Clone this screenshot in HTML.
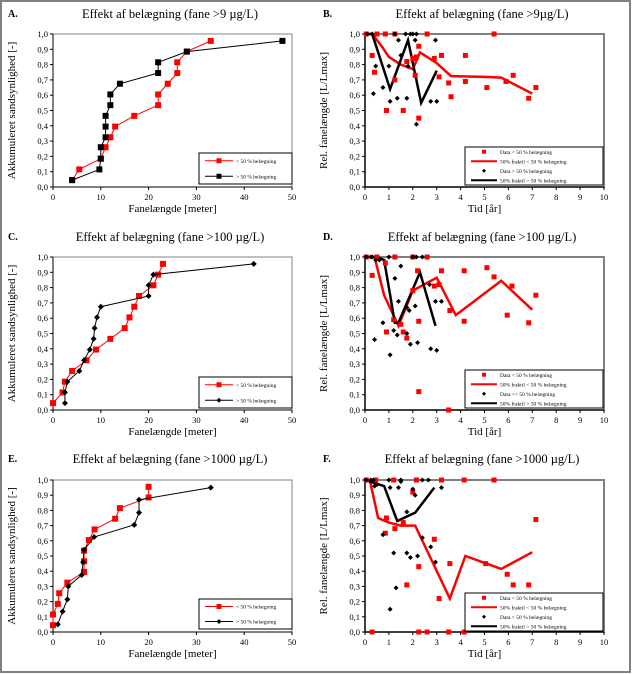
<!DOCTYPE html>
<html><head><meta charset="utf-8"><style>
html,body{margin:0;padding:0;background:#fff}
svg{display:block;font-family:"Liberation Serif",serif}
</style></head><body>
<svg id="fig" width="632" height="674" viewBox="0 0 632 674" xmlns="http://www.w3.org/2000/svg">
<rect x="1" y="1" width="629" height="671" fill="#fff" stroke="#808080" stroke-width="2"/>
</svg>
<script>
// ---- data ----
const aRedX=[4,5.5,10,11,12,13,17,22,22,24,26,26,28,33];
const aRedY=[0.045,0.115,0.185,0.26,0.325,0.395,0.465,0.535,0.605,0.675,0.745,0.815,0.885,0.955];
const aBlkX=[4,9.7,10,10,11,11,11,12,12,14,22,22,28,48];
const aBlkY=[0.045,0.115,0.185,0.26,0.325,0.395,0.465,0.535,0.605,0.675,0.745,0.815,0.885,0.955];
const cRedX=[0,2,2.5,4,7,9,12,15,16,17,18,21,22,23];
const cRedY=[0.045,0.115,0.185,0.255,0.325,0.395,0.465,0.535,0.605,0.675,0.745,0.815,0.885,0.955];
const cBlkX=[2.5,2.5,3,5.5,6.5,7.7,8.5,8.7,9.2,10,20,20,21,42];
const cBlkY=[0.045,0.115,0.185,0.255,0.325,0.395,0.465,0.535,0.605,0.675,0.745,0.815,0.885,0.955];
const eRedX=[0,0,1,1.3,3,6.5,6.5,6.5,7.5,8.7,13,14,20,20];
const eRedY=[0.045,0.115,0.185,0.255,0.325,0.395,0.465,0.535,0.605,0.675,0.745,0.815,0.885,0.955];
const eBlkX=[1,2,3,3.2,6,6.3,6.5,8.6,17,18,18,33];
const eBlkY=[0.05,0.135,0.215,0.30,0.375,0.46,0.54,0.625,0.705,0.785,0.87,0.95];

const bRedX=[0.05,0.3,0.4,0.5,0.85,0.9,1.25,1.25,1.6,1.75,2.0,2.1,2.15,2.25,2.25,2.6,2.9,3.1,3.2,3.5,3.6,4.2,4.2,5.1,5.4,5.9,6.2,6.85,7.15];
const bRedY=[1,0.86,0.75,1,1,0.5,1,0.7,0.5,0.82,0.84,0.73,0.85,0.92,0.45,1,0.84,0.72,0.86,0.68,0.59,0.86,0.69,0.65,1,0.69,0.73,0.58,0.65];
const bBlkX=[0.1,0.3,0.35,0.45,0.75,1.0,1.05,1.25,1.4,1.35,1.5,1.7,1.75,1.8,1.9,2.0,2.1,2.15,2.15,2.75,2.95,3.0];
const bBlkY=[1,1,0.61,0.79,0.65,0.79,0.56,1,0.96,0.58,0.86,1,0.58,0.79,1,1,0.96,1,0.41,0.56,0.96,0.56];
const bRedLX=[0,0.3,0.7,1,1.5,2,2.3,3,3.6,5,5.7,7];
const bRedLY=[1,1,0.92,0.85,0.80,0.77,0.88,0.81,0.725,0.72,0.715,0.61];
const bBlkLX=[0,0.3,1.05,1.8,2.35,3];
const bBlkLY=[1,1,0.64,0.96,0.55,0.76];

const dRedX=[0.05,0.3,0.5,0.85,0.9,1.2,1.25,1.5,1.6,1.75,2.0,2.0,2.2,2.25,2.25,2.6,2.9,3.1,3.2,3.5,3.55,4.15,4.15,5.1,5.4,5.95,6.15,6.85,7.15];
const dRedY=[1,0.88,1,0.96,0.51,0.59,1,0.56,0.51,0.47,0.78,1,0.91,0.58,0.12,1,0.81,0.82,0.91,0.0,0.65,0.91,0.58,0.93,0.87,0.62,0.81,0.57,0.75];
const dBlkX=[0.05,0.25,0.3,0.4,0.45,0.6,0.75,1.0,1.05,1.2,1.25,1.35,1.4,1.5,1.75,1.75,1.85,1.9,2.0,2.1,2.15,2.2,2.4,2.7,2.75,2.95,3.0,3.2];
const dBlkY=[1,1,1,0.46,0.98,0.98,0.57,1,0.36,0.52,0.86,0.49,0.71,0.94,0.5,0.67,0.65,0.43,1,0.68,1,0.44,1,0.82,0.4,0.71,0.39,0.71];
const dRedLX=[0,0.4,0.8,1.4,2,3,3.8,5.7,7];
const dRedLY=[1,1,0.75,0.55,0.78,0.865,0.62,0.845,0.655];
const dBlkLX=[0,0.5,0.8,1.25,1.4,2.3,2.95];
const dBlkLY=[1,1,0.98,0.57,0.57,0.9,0.55];

const fRedX=[0.05,0.3,0.45,0.9,0.85,1.2,1.25,1.6,1.75,2.0,2.15,2.25,2.25,2.6,2.9,3.1,3.2,3.5,3.55,4.15,4.15,5.05,5.4,5.95,6.2,6.85,7.15];
const fRedY=[1,0,1,0.75,0.65,1,0.68,0.72,0.31,0.92,1,0.43,0,0,0.61,0.22,1,0,0.45,1,0,0.45,1,0.38,0.31,0.31,0.74];
const fBlkX=[0.05,0.25,0.35,0.4,0.5,0.75,1.0,1.05,1.05,1.2,1.3,1.4,1.5,1.5,1.75,1.75,1.9,2.0,2.1,2.2,2.4,2.4,2.65,2.75,2.95,3.2];
const fBlkY=[1,1,1,0.96,0.97,0.64,1,0.95,0.15,0.52,0.29,0.95,1,0.99,0.52,0.79,0.49,0.94,0.90,0.5,1,0.62,1,0.56,0.46,0.95];
const fRedLX=[0,0.2,0.55,1,1.5,2.1,3.55,4.2,5.7,7];
const fRedLY=[1,1,0.75,0.72,0.70,0.70,0.22,0.50,0.415,0.525];
const fBlkLX=[0,0.5,0.8,1.35,2.1,2.9];
const fBlkLY=[1,0.975,0.96,0.73,0.785,0.95];

const yTicks=["0,0","0,1","0,2","0,3","0,4","0,5","0,6","0,7","0,8","0,9","1,0"];
const xTicksL=[0,10,20,30,40,50];
const xTicksR=[0,1,2,3,4,5,6,7,8,9,10];

// ---- drawing ----
const NS="http://www.w3.org/2000/svg";
const svg=document.getElementById('fig');
function mk(tag,attrs,parent,txt){const e=document.createElementNS(NS,tag);for(const k in attrs)e.setAttribute(k,attrs[k]);if(txt!==undefined)e.textContent=txt;(parent||svg).appendChild(e);return e;}
function scale(d0,d1,r0,r1){return v=>r0+(v-d0)/(d1-d0)*(r1-r0);}
function marker(g,type,x,y,s,color){
  let e;
  if(type==='sq'){e=mk('rect',{x:x-s/2,y:y-s/2,width:s,height:s,fill:color},g);}
  else{e=mk('polygon',{points:`${x},${y-s/2} ${x+s/2},${y} ${x},${y+s/2} ${x-s/2},${y}`,fill:color},g);}
  
  
}
function panel(p){
  const g=mk('g',{});
  
  
  const sx=scale(0,p.xmax,p.x0,p.x1), sy=scale(0,1,p.y0,p.y1);
  const frame=mk('rect',{x:p.x0,y:p.y1,width:p.x1-p.x0,height:p.y0-p.y1,fill:'none',stroke:'#808080','stroke-width':p.fw},g);
  
  mk('line',{x1:p.x0,y1:p.y1,x2:p.x0,y2:p.y0,stroke:'#000','stroke-width':1},g);
  mk('line',{x1:p.x0,y1:p.y0,x2:p.x1,y2:p.y0,stroke:'#000','stroke-width':1},g);
  yTicks.forEach((t,i)=>{const y=sy(i/10);
    mk('line',{x1:p.x0-3,y1:y,x2:p.x0,y2:y,stroke:'#000'},g);
    const tl=mk('text',{x:p.x0-5,y:y+3,'font-size':8.5,'text-anchor':'end'},g,t);
    });
  p.xt.forEach(t=>{const x=sx(t);
    mk('line',{x1:x,y1:p.y0,x2:x,y2:p.y0+3,stroke:'#000'},g);
    const tl=mk('text',{x:x,y:p.y0+13,'font-size':8.5,'text-anchor':'middle'},g,t);
    });
  const xl=mk('text',{x:(p.x0+p.x1)/2,y:p.y0+25,'font-size':11,'text-anchor':'middle'},g,p.xlabel);
  
  const yc=(p.y0+p.y1)/2;
  const yl=mk('text',{x:p.ylx,y:yc,'font-size':11,'text-anchor':'middle',transform:`rotate(-90 ${p.ylx} ${yc})`},g,p.ylabel);
  
  const ti=mk('text',{x:p.tx,y:p.ty,'font-size':12.5,'text-anchor':'middle'},g,p.title);
  
  const le=mk('text',{x:p.lx,y:p.ty-1,'font-size':10,'font-weight':'bold'},g,p.id+'.');
  
  p.series.forEach(s=>{
    if(s.line){const pts=s.xs.map((v,i)=>sx(v)+','+sy(s.ys[i])).join(' ');
      const pl=mk('polyline',{points:pts,fill:'none',stroke:s.color,'stroke-width':s.lw},g);
      }
    if(s.mk){s.xs.forEach((v,i)=>marker(g,s.mk,sx(v),sy(s.ys[i]),s.ms,s.color));}
  });
  // legend
  const L=p.leg;
  const lb=mk('rect',{x:L.x,y:L.y,width:L.w,height:L.h,fill:'#fff',stroke:'#000','stroke-width':1},g);
  
  const n=L.items.length, rh=L.h/n;
  L.items.forEach((it,i)=>{const cy=L.y+rh*(i+0.5);
    const cx=L.x+L.sw/2+6;
    if(it.line)mk('line',{x1:L.x+6,y1:cy,x2:L.x+6+L.sw,y2:cy,stroke:it.color,'stroke-width':it.lw},g);
    if(it.mk)marker(g,it.mk,cx,cy,it.ms,it.color);
    const t=mk('text',{x:L.x+L.sw+9,y:cy+2,'font-size':5.5},g,it.text);
    });
}
function cumPanel(id,y0,y1,ty,title,rx,ry,bx,by,bmk,legY,legH){
  panel({id,x0:53,x1:292,y0,y1,xmax:50,xt:xTicksL,fw:1,xlabel:'Fanelængde [meter]',ylabel:'Akkumuleret sandsynlighed [-]',ylx:15,
    title,tx:170,ty,lx:8,
    series:[{xs:rx,ys:ry,color:'#ff0000',line:true,lw:1,mk:'sq',ms:6},{xs:bx,ys:by,color:'#000',line:true,lw:1,mk:bmk,ms:bmk==='sq'?6:6}],
    leg:{x:199,y:legY,w:93,h:legH,sw:28,items:[{text:'< 50 % belægning',color:'#ff0000',line:true,lw:1,mk:'sq',ms:5},{text:'> 50 % belægning',color:'#000',line:true,lw:1,mk:bmk,ms:5}]}});
}
function relPanel(id,y0,y1,ty,title,rx,ry,bx,by,rlx,rly,blx,bly,legY,dataBlk){
  panel({id,x0:365,x1:604,y0,y1,xmax:10,xt:xTicksR,fw:2,xlabel:'Tid [år]',ylabel:'Rel. fanelængde [L/Lmax]',ylx:327,
    title,tx:482,ty,lx:323,
    series:[{xs:rlx,ys:rly,color:'#ff0000',line:true,lw:2.5},{xs:blx,ys:bly,color:'#000',line:true,lw:2.5},
      {xs:rx,ys:ry,color:'#ff0000',mk:'sq',ms:5},{xs:bx,ys:by,color:'#000',mk:'di',ms:5}],
    leg:{x:465,y:legY,w:138,h:38,sw:26,items:[{text:'Data < 50 % belægning',color:'#ff0000',mk:'sq',ms:4},
      {text:'50% fraktil < 50 % belægning',color:'#ff0000',line:true,lw:2},
      {text:dataBlk,color:'#000',mk:'di',ms:4},
      {text:'50% fraktil > 50 % belægning',color:'#000',line:true,lw:2}]}});
}
cumPanel('A',187,34,18,'Effekt af belægning (fane >9 µg/L)',aRedX,aRedY,aBlkX,aBlkY,'sq',153,31);
cumPanel('C',410,257,241,'Effekt af belægning (fane >100 µg/L)',cRedX,cRedY,cBlkX,cBlkY,'di',377,31);
cumPanel('E',632,480,463,'Effekt af belægning (fane >1000 µg/L)',eRedX,eRedY,eBlkX,eBlkY,'di',599,30);
relPanel('B',187,34,18,'Effekt af belægning (fane >9µg/L)',bRedX,bRedY,bBlkX,bBlkY,bRedLX,bRedLY,bBlkLX,bBlkLY,147,'Data > 50 % belægning');
relPanel('D',410,257,241,'Effekt af belægning (fane >100 µg/L)',dRedX,dRedY,dBlkX,dBlkY,dRedLX,dRedLY,dBlkLX,dBlkLY,370,'Data >> 50 % belægning');
relPanel('F',632,480,463,'Effekt af belægning (fane >1000 µg/L)',fRedX,fRedY,fBlkX,fBlkY,fRedLX,fRedLY,fBlkLX,fBlkLY,593,'Data > 50 % belægning');
</script>
</body></html>
